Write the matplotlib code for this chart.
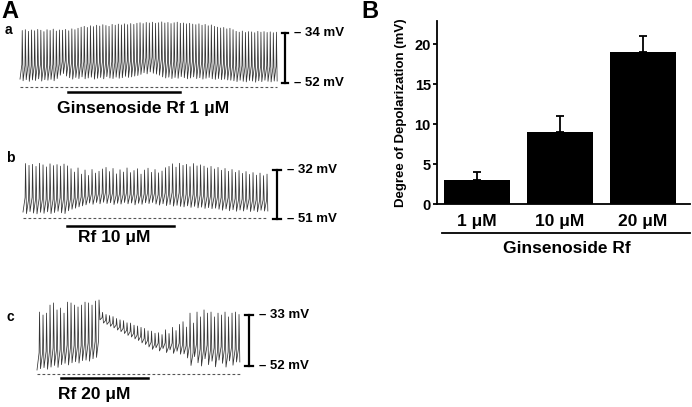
import matplotlib
matplotlib.use("Agg")
import matplotlib.pyplot as plt
from matplotlib.lines import Line2D

plt.rcParams["font.family"] = ["Liberation Sans", "DejaVu Sans"]
plt.rcParams["font.weight"] = "bold"
plt.rcParams["axes.labelweight"] = "bold"

W, H = 692, 407

# ---- Panel A: per-spike peak and trough potentials (mV) ----
peaks_a = [-33.1, -32.8, -33.4, -32.9, -33.2, -32.7, -33.0, -33.5, -32.8, -33.1,
           -32.6, -33.3, -32.9, -33.0, -32.7, -33.2, -32.5, -32.8, -32.3,
           -31.9, -31.6, -32.0, -31.4, -31.7, -31.2, -31.5, -31.0, -31.3, -31.6,
           -30.9, -31.2, -30.8, -31.1, -30.7, -31.0, -30.6, -30.9,
           -30.5, -30.3, -30.6, -30.2, -30.4, -30.1, -30.5, -30.3, -30.0, -30.4,
           -30.2, -30.6, -30.3, -30.1, -30.5, -30.4, -30.7, -30.5,
           -30.8, -31.0, -30.7, -31.2, -30.9, -31.4, -31.1, -31.6, -31.9,
           -32.2, -32.0, -32.5, -32.3, -32.8,
           -33.4, -33.7, -33.3, -33.8, -33.5, -33.6, -33.9, -33.4, -33.7, -33.5,
           -33.8, -33.6, -33.9, -33.7]
troughs_a = [-50.6, -51.2, -50.8, -51.4, -50.9, -51.1, -50.5, -51.3, -50.8, -51.0,
             -50.7, -51.2, -50.4,
             -49.2, -48.6, -49.5,
             -50.1, -50.6, -50.0, -50.4, -49.8, -50.5, -50.2, -49.9, -50.6, -50.3,
             -50.0, -50.5, -49.7, -50.2, -50.4, -49.9, -50.3, -50.1, -49.6, -50.0,
             -49.8, -49.5, -49.3,
             -48.9, -48.3, -48.7, -48.0, -48.5, -48.8, -49.2,
             -49.8, -50.2, -49.9, -50.4, -50.0, -50.3, -49.7, -50.1, -50.5, -50.2,
             -49.8, -50.4, -50.1, -50.6, -50.3, -50.0, -50.5, -50.7, -50.4, -50.8,
             -50.6, -50.9, -51.0,
             -51.2, -51.5, -51.0, -51.4, -51.6, -51.1, -51.3, -51.7, -51.2, -51.5,
             -51.0, -51.4, -51.6, -51.3]

peaks_b = [-29.5, -30.2, -29.8, -30.6, -29.4, -30.0, -30.8, -29.6, -30.3, -29.9,
           -30.5, -29.7, -30.4,
           -31.5, -32.8, -31.2, -33.6, -32.0, -34.1, -31.8, -33.2, -32.5, -31.6,
           -31.0, -32.6, -31.4, -33.5, -31.9, -32.8, -31.2, -33.0, -32.2, -31.5,
           -33.6, -32.0, -31.3, -32.9, -31.8, -33.1, -32.4, -31.1,
           -30.6, -29.6, -30.9, -29.4, -30.2, -29.8, -30.7, -29.5, -30.4, -30.0,
           -30.5, -31.2, -30.6, -31.6, -31.0, -32.1, -31.4, -32.5, -31.8, -32.9,
           -32.2, -33.3, -32.6, -33.7, -33.0, -34.0, -33.2, -34.2, -33.6]
troughs_b = [-48.3, -48.9, -48.1, -48.7, -49.0, -48.4, -48.8, -48.2, -48.9, -48.5,
             -48.0, -48.6, -48.9,
             -47.8, -47.2, -46.8, -46.3, -45.9,
             -45.5, -44.8, -45.3, -44.6, -45.1, -44.5, -45.0, -44.7, -45.4, -44.9,
             -45.2, -44.6, -45.1, -44.8, -45.5, -44.9, -45.3, -44.7, -45.0, -44.6,
             -45.2, -45.6, -45.1, -45.8, -45.4, -46.0, -45.7, -46.1,
             -46.3, -45.9, -46.5, -46.1, -46.7, -46.4, -46.9, -46.6, -47.0, -46.8,
             -47.2, -47.6, -47.1, -47.8, -47.4, -48.0, -47.5, -47.9, -47.3, -48.1,
             -47.7, -48.2, -47.6, -47.9]

peaks_c = [-31.9, -33.0, -32.3, -29.3, -28.5, -31.1, -30.4, -32.3, -28.2, -28.5,
           -29.3, -30.0, -29.3, -28.2, -28.5, -29.3, -27.8, -27.4,
           -32.0, -32.8, -33.2, -33.6, -34.3, -34.8, -35.1, -35.9, -36.0, -36.8,
           -37.1, -37.6, -38.0, -38.9, -39.0, -39.8, -39.6, -40.3, -38.5, -39.9,
           -37.6, -38.8, -36.5, -35.5,
           -37.5, -32.3, -36.0, -31.9, -33.7, -31.1, -32.3, -31.9, -33.7, -32.3,
           -33.0, -31.9, -33.7, -32.3, -31.9, -32.8]
troughs_c = [-53.5, -53.0, -52.6, -53.2, -52.4, -51.8, -52.5, -51.5, -51.0, -51.6,
             -50.8, -50.4, -50.9, -50.0, -49.8, -50.2, -49.3, -48.8,
             -34.8, -36.0, -36.5, -37.2, -37.8, -38.6, -39.2, -39.9, -40.6, -41.2,
             -41.9, -42.5, -43.4, -44.0, -44.9, -45.8, -45.2, -46.4, -45.5, -47.0,
             -46.0, -47.3, -46.5, -47.6,
             -47.5, -49.0, -51.8, -48.5, -50.8, -52.0, -49.3, -51.5, -50.2, -52.3,
             -49.8, -51.0, -52.4, -50.1, -51.7, -50.5]

scale_a = ("– 34 mV", "– 52 mV")
scale_b = ("– 32 mV", "– 51 mV")
scale_c = ("– 33 mV", "– 52 mV")

# ---- Panel B ----
doses = ["1 μM", "10 μM", "20 μM"]
depolarization = [3, 9, 19]
sem = [1, 2, 2]


def fig_px(x, y):
    return x / W, 1 - y / H


def draw_trace(fig, peaks, troughs, start, period, cal, top, bottom,
               labels, stim, stim_text, stim_text_px, letter_px, letter):
    y_top, mv_top, y_bot, mv_bot = cal
    mv_px = (mv_top - mv_bot) / (y_bot - y_top)
    ax = fig.add_axes([0, 1 - bottom / H, 360 / W, (bottom - top) / H])
    ax.set_xlim(-start / period, (360 - start) / period)
    ax.set_ylim(mv_top - (bottom - y_top) * mv_px, mv_top + (y_top - top) * mv_px)
    ax.axis("off")

    def dx(px):
        return (px - start) / period

    def dy(py):
        return mv_top - (py - y_top) * mv_px

    # spikes: slow ramp from trough, fast up to peak, fast down to next trough
    t, v = [], []
    n = len(peaks)
    for i in range(n):
        t += [i, i + 0.6, i + 0.72]
        v += [troughs[i], troughs[i] + 0.3 * (peaks[i] - troughs[i]), peaks[i]]
    t.append(n - 0.05)
    v.append(troughs[-1])
    ax.plot(t, v, color="#333333", lw=0.55)

    # dashed baseline
    base = min(troughs) - 1.6
    ax.plot([0, n], [base, base], ls=(0, (2.5, 2)), color="#555555", lw=0.8)

    # scale bar
    xb = n + 2.5
    ax.plot([xb, xb], [mv_bot, mv_top], color="black", lw=1.6)
    for m in (mv_bot, mv_top):
        ax.plot([xb - 1.1, xb + 1.1], [m, m], color="black", lw=1.6)
    ax.text(xb + 3.0, mv_top, labels[0], fontsize=9.5, va="center", ha="left")
    ax.text(xb + 3.0, mv_bot, labels[1], fontsize=9.5, va="center", ha="left")

    # drug application bar
    ax.plot([dx(stim[0]), dx(stim[1])], [dy(stim[2]), dy(stim[2])],
            color="black", lw=1.8)
    ax.text(dx(stim_text_px[0]), dy(stim_text_px[1]), stim_text, fontsize=12.5,
            ha="center", va="center")
    fig.text(*fig_px(*letter_px), letter, fontsize=10, ha="center", va="center")


fig = plt.figure(figsize=(W / 100, H / 100), dpi=100)

fig.text(*fig_px(1, 0), "A", fontsize=17, va="top", ha="left")
fig.text(*fig_px(361, 0), "B", fontsize=17, va="top", ha="left")

draw_trace(fig, peaks_a, troughs_a, 20, 3.1, (33, -34, 83, -52), 10, 120,
           scale_a, (68, 180, 92), "Ginsenoside Rf 1 μM", (143, 108), (8, 30), "a")
draw_trace(fig, peaks_b, troughs_b, 23, 3.5, (170, -32, 219, -51), 140, 250,
           scale_b, (67, 174, 226), "Rf 10 μM", (114, 238), (10, 158), "b")
draw_trace(fig, peaks_c, troughs_c, 37, 3.5, (315, -33, 366, -52), 285, 405,
           scale_c, (61, 148, 378), "Rf 20 μM", (94, 395), (10, 317), "c")

# ---- Panel B bar chart ----
axb = fig.add_axes([437 / W, 1 - 204 / H, 253 / W, 183 / H])
pos = [1, 2, 3]
axb.bar(pos, depolarization, width=0.8, color="black",
        yerr=([0, 0, 0], sem), capsize=3,
        error_kw=dict(elinewidth=1.3, capthick=1.3, ecolor="black"))
axb.set_xlim(0.52, 3.57)
axb.set_ylim(0, 22.9)
axb.set_yticks([0, 5, 10, 15, 20])
axb.set_xticks(pos)
axb.set_xticklabels(doses, fontsize=12.5)
axb.tick_params(axis="x", length=0, pad=7)
axb.tick_params(axis="y", length=3, width=1.3, labelsize=10.5, pad=1.5)
for s in ("top", "right"):
    axb.spines[s].set_visible(False)
for s in ("left", "bottom"):
    axb.spines[s].set_linewidth(1.3)
axb.set_ylabel("Degree of Depolarization (mV)", fontsize=9.5, labelpad=5)

x0, y0 = fig_px(442, 233)
x1, _ = fig_px(690, 233)
fig.add_artist(Line2D([x0, x1], [y0, y0], color="black", lw=1.3))
fig.text(*fig_px(567, 248), "Ginsenoside Rf", fontsize=12.5, ha="center", va="center")

fig.savefig("out.png", dpi=100)
